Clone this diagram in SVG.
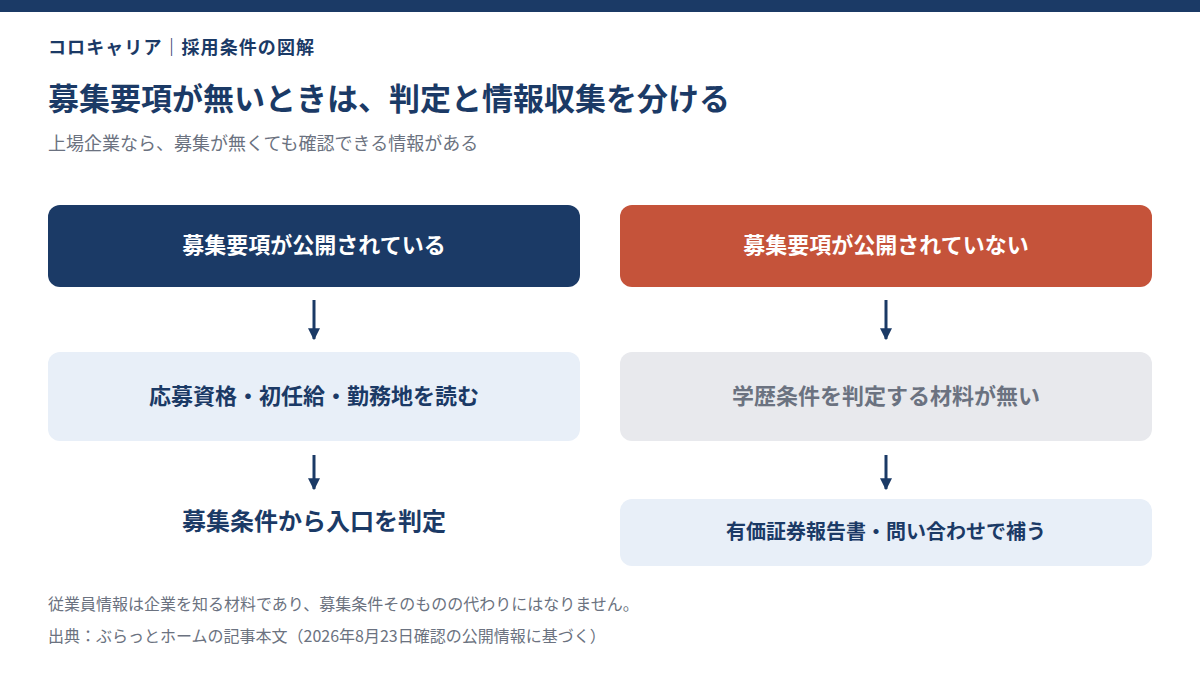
<svg xmlns="http://www.w3.org/2000/svg" width="1200" height="675" viewBox="0 0 1200 675">
<style>
text{font-family:"Noto Sans CJK JP","Noto Sans",sans-serif}
.b{font-weight:700}
.w{fill:#fff;font-size:22px;font-weight:700}
.n{fill:#1b3a66}
.g{fill:#6b7280}
.arr{stroke:#1b3a66;stroke-width:3}
</style>
<defs><marker id="ah" viewBox="0 0 10 10" refX="9" refY="5" markerWidth="4" markerHeight="4" orient="auto"><path d="M0,0L10,5L0,10z" fill="#1b3a66"/></marker></defs>
<rect width="1200" height="675" fill="#fff"/>
<rect width="1200" height="12" fill="#1b3a66"/>
<text x="48" y="54" class="b n" font-size="18" textLength="266">コロキャリア｜採用条件の図解</text>
<text x="48" y="110" class="b n" font-size="31">募集要項が無いときは、判定と情報収集を分ける</text>
<text x="48" y="150" class="g" font-size="18">上場企業なら、募集が無くても確認できる情報がある</text>
<g id="n1"><rect x="48" y="205" width="532" height="82" rx="12" fill="#1b3a66"/><text x="314" y="253" class="w" text-anchor="middle">募集要項が公開されている</text></g>
<g id="n2"><rect x="620" y="205" width="532" height="82" rx="12" fill="#c5533a"/><text x="886" y="253" class="w" text-anchor="middle">募集要項が公開されていない</text></g>
<g id="n3"><rect x="48" y="352" width="532" height="89" rx="12" fill="#e8eff8"/><text x="314" y="404" class="b n" font-size="22" text-anchor="middle">応募資格・初任給・勤務地を読む</text></g>
<g id="n4"><rect x="620" y="352" width="532" height="89" rx="12" fill="#e8e9ed"/><text x="886" y="404" class="b g" font-size="22" text-anchor="middle">学歴条件を判定する材料が無い</text></g>
<g id="n5"><text x="314" y="530" class="b n" font-size="24" text-anchor="middle">募集条件から入口を判定</text></g>
<g id="n6"><rect x="620" y="499" width="532" height="67" rx="12" fill="#e8eff8"/><text x="886" y="539" class="b n" font-size="20" text-anchor="middle">有価証券報告書・問い合わせで補う</text></g>
<g id="connectors">
<line x1="314" y1="300" x2="314" y2="339" class="arr" marker-end="url(#ah)"/>
<line x1="886" y1="300" x2="886" y2="339" class="arr" marker-end="url(#ah)"/>
<line x1="314" y1="455" x2="314" y2="489" class="arr" marker-end="url(#ah)"/>
<line x1="886" y1="455" x2="886" y2="489" class="arr" marker-end="url(#ah)"/>
</g>
<text x="48" y="610" class="g" font-size="16">従業員情報は企業を知る材料であり、募集条件そのものの代わりにはなりません。</text>
<text x="48" y="642" class="g" font-size="16">出典：ぶらっとホームの記事本文（2026年8月23日確認の公開情報に基づく）</text>
</svg>
